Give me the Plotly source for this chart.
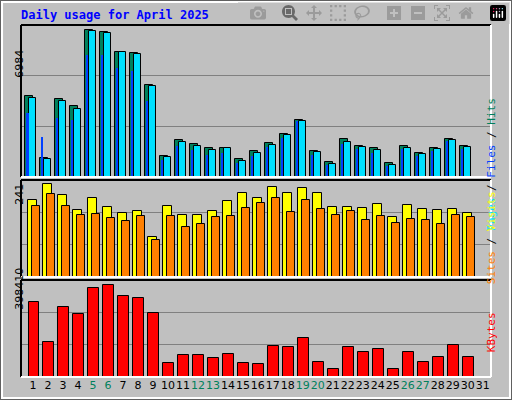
import plotly.graph_objects as go

days = list(range(1, 32))
weekend = [5, 6, 12, 13, 19, 20, 26, 27]

hits = [3825, 920, 3682, 3350, 6984, 6890, 5940, 5890, 4370, 1000, 1760, 1570, 1380, 1380, 860, 1240, 1620, 2040, 2710, 1240, 710, 1810, 1480, 1380, 670, 1480, 1140, 1380, 1810, 1480]
files = [3730, 860, 3590, 3250, 6940, 6840, 5940, 5850, 4330, 950, 1670, 1480, 1280, 1380, 760, 1140, 1520, 2000, 2660, 1190, 620, 1670, 1430, 1280, 570, 1380, 1090, 1330, 1760, 1430]
pages = [3060, 1900, 2800, 2700, 5800, 5800, 5200, 5050, 3600, 810, 1480, 1280, 1050, 1140, 660, 1000, 1430, 1830, 2660, 1040, 560, 1570, 1330, 1140, 520, 1330, 1000, 1240, 1710, 1330]
visits = [199, 241, 212, 174, 205, 181, 166, 171, 104, 184, 160, 160, 171, 197, 218, 205, 233, 218, 231, 218, 181, 181, 179, 189, 155, 187, 176, 174, 176, 166]
sites = [184, 215, 184, 160, 163, 153, 145, 158, 96, 158, 130, 137, 155, 158, 179, 192, 205, 168, 199, 176, 160, 171, 148, 158, 140, 150, 148, 137, 160, 155]
kbytes = [324800, 151600, 303200, 272900, 385400, 398410, 350700, 342000, 277200, 60600, 95300, 95300, 82300, 99600, 60600, 56300, 134300, 129900, 168900, 64900, 34600, 129900, 108300, 121200, 34600, 108300, 64900, 86600, 138600, 86600]

R1, R2, R3 = 7221, 251, 420000
n = len(hits)
x = days[:n]

fig = go.Figure()
line = dict(color="black", width=1)
fig.add_bar(x=x, y=hits, offset=-0.53, width=0.53, marker=dict(color="#00805c", line=line), yaxis="y")
fig.add_bar(x=x, y=files, offset=-0.27, width=0.5, marker=dict(color="#00e0ff", line=line), yaxis="y")
fig.add_bar(x=x, y=pages, offset=-0.42, width=0.12, marker=dict(color="#0040ff", line=dict(width=0)), yaxis="y")
fig.add_bar(x=x, y=visits, offset=-0.35, width=0.6, marker=dict(color="#ffff00", line=line), xaxis="x2", yaxis="y2")
fig.add_bar(x=x, y=sites, offset=-0.08, width=0.53, marker=dict(color="#ff8000", line=line), xaxis="x2", yaxis="y2")
fig.add_bar(x=x, y=kbytes, offset=-0.3, width=0.72, marker=dict(color="#ff0000", line=line), xaxis="x3", yaxis="y3")

ticktext = []
for d in days:
    c = "#00805c" if d in weekend else "black"
    ticktext.append("<span style='color:%s'>%d</span>" % (c, d))

xr = [0.2, 31.55]
common_x = dict(range=xr, showgrid=False, zeroline=False, fixedrange=True)
yax = lambda r, dom: dict(range=[0, r], domain=dom, tickvals=[r / 3, 2 * r / 3], showticklabels=False,
                          gridcolor="#808080", gridwidth=1, zeroline=False, ticks="")
fig.update_layout(
    width=512, height=400, margin=dict(l=0, r=0, t=0, b=0),
    paper_bgcolor="#c0c0c0", plot_bgcolor="#c0c0c0",
    barmode="overlay", bargap=0, showlegend=False,
    font=dict(family="DejaVu Sans", size=11, color="black"),
    xaxis=dict(common_x, domain=[0.041, 0.959], anchor="y", showticklabels=False),
    xaxis2=dict(common_x, domain=[0.041, 0.959], anchor="y2", showticklabels=False),
    xaxis3=dict(common_x, domain=[0.041, 0.959], anchor="y3", tickvals=days, ticktext=ticktext,
                ticks="", tickangle=0, tickfont=dict(size=11)),
    yaxis=yax(R1, [0.5575, 0.9375]),
    yaxis2=yax(R2, [0.3075, 0.55]),
    yaxis3=yax(R3, [0.0575, 0.30]),
)

# panel frames
for y0, y1 in [(0.5575, 0.9375), (0.3075, 0.55), (0.0575, 0.30)]:
    fig.add_shape(type="line", xref="paper", yref="paper", x0=0.041, x1=0.959, y0=y1, y1=y1, line=dict(color="black", width=2))
    fig.add_shape(type="line", xref="paper", yref="paper", x0=0.041, x1=0.041, y0=y0, y1=y1, line=dict(color="black", width=2))
    fig.add_shape(type="line", xref="paper", yref="paper", x0=0.041, x1=0.959, y0=y0, y1=y0, line=dict(color="white", width=2))
    fig.add_shape(type="line", xref="paper", yref="paper", x0=0.959, x1=0.959, y0=y0, y1=y1, line=dict(color="white", width=2))
# outer frame
fig.add_shape(type="rect", xref="paper", yref="paper", x0=0.003, x1=0.997, y0=0.004, y1=0.996, line=dict(color="white", width=3))
fig.add_shape(type="rect", xref="paper", yref="paper", x0=0, x1=1, y0=0, y1=1, line=dict(color="#606060", width=2))

mono = "DejaVu Sans Mono"
fig.add_annotation(text="<b>Daily usage for April 2025</b>", xref="paper", yref="paper", x=0.037, y=0.985,
                   xanchor="left", yanchor="top", showarrow=False, font=dict(family=mono, size=12, color="#0000ff"))
for txt, yc in [(str(max(hits)), 0.88), (str(max(visits)), 0.515), (str(max(kbytes)), 0.22)]:
    fig.add_annotation(text=txt, xref="paper", yref="paper", x=0.02, y=yc, textangle=-90, showarrow=False,
                       font=dict(family="DejaVu Sans", size=11, color="black"))
fig.add_annotation(text="<span style='color:#00e0ff'>Pages</span> / <span style='color:#0040ff'>Files</span> / <span style='color:#00805c'>Hits</span>",
                   xref="paper", yref="paper", x=0.976, y=0.76, textangle=-90, showarrow=False, font=dict(family=mono, size=11))
fig.add_annotation(text="<span style='color:#ff8000'>Sites</span> / <span style='color:#ffff00'>Visits</span>",
                   xref="paper", yref="paper", x=0.976, y=0.405, textangle=-90, showarrow=False, font=dict(family=mono, size=11))
fig.add_annotation(text="<span style='color:#ff0000'>KBytes</span>",
                   xref="paper", yref="paper", x=0.976, y=0.115, textangle=-90, showarrow=False, font=dict(family=mono, size=11))

fig.write_html("out.html", post_script="document.body.style.margin='0';")
